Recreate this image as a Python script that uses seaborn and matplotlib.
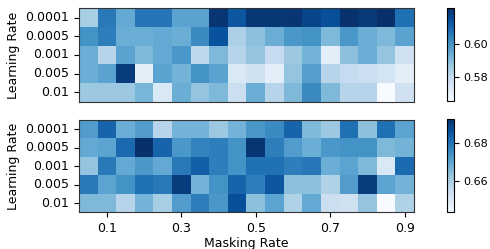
import numpy as np
import pandas as pd
import matplotlib
matplotlib.use("Agg")
import matplotlib.pyplot as plt
import seaborn as sns

learning_rates = ["0.0001", "0.0005", "0.001", "0.005", "0.01"]
masking_rates = [0.05, 0.1, 0.15, 0.2, 0.25, 0.3, 0.35, 0.4, 0.45,
                 0.5, 0.55, 0.6, 0.65, 0.7, 0.75, 0.8, 0.85, 0.9]
shown_ticks = [0.1, 0.3, 0.5, 0.7, 0.9]

# top panel
top_lr0001 = [0.5853, 0.6056, 0.5946, 0.6062, 0.6062, 0.5963, 0.5963, 0.6199, 0.6128,
              0.6194, 0.6194, 0.6199, 0.6166, 0.6144, 0.6205, 0.6188, 0.6210, 0.6073]
top_lr0005 = [0.6001, 0.6045, 0.5935, 0.5935, 0.5946, 0.5935, 0.6018, 0.6139, 0.5842,
              0.5891, 0.5935, 0.5990, 0.6001, 0.5908, 0.5990, 0.5935, 0.5908, 0.5963]
top_lr001 = [0.5935, 0.5825, 0.5963, 0.5908, 0.5946, 0.5990, 0.5814, 0.5908, 0.5825,
             0.5880, 0.5798, 0.5869, 0.5924, 0.5715, 0.5891, 0.5935, 0.5880, 0.5770]
top_lr005 = [0.5935, 0.5963, 0.6183, 0.5715, 0.5963, 0.5924, 0.6001, 0.5963, 0.5743,
             0.5770, 0.5715, 0.5880, 0.5974, 0.5825, 0.5798, 0.5781, 0.5759, 0.5715]
top_lr01 = [0.5869, 0.5869, 0.5869, 0.5919, 0.5743, 0.5935, 0.5880, 0.5908, 0.5781,
            0.5935, 0.5825, 0.5908, 0.6018, 0.5908, 0.5825, 0.5825, 0.5660, 0.5770]

# bottom panel
bot_lr0001 = [0.672, 0.683, 0.668, 0.672, 0.658, 0.667, 0.667, 0.662, 0.667,
              0.673, 0.6755, 0.683, 0.6655, 0.662, 0.6805, 0.664, 0.6805, 0.6705]
bot_lr0005 = [0.669, 0.6705, 0.682, 0.693, 0.683, 0.673, 0.677, 0.678, 0.674,
              0.692, 0.678, 0.672, 0.668, 0.673, 0.674, 0.674, 0.6655, 0.667]
bot_lr001 = [0.663, 0.679, 0.669, 0.673, 0.669, 0.679, 0.684, 0.678, 0.674,
             0.6805, 0.6805, 0.678, 0.6795, 0.668, 0.6705, 0.6655, 0.6505, 0.6815]
bot_lr005 = [0.679, 0.6705, 0.674, 0.6805, 0.679, 0.6905, 0.667, 0.674, 0.683,
             0.678, 0.6855, 0.664, 0.664, 0.659, 0.672, 0.6905, 0.6705, 0.667]
bot_lr01 = [0.6655, 0.6655, 0.658, 0.667, 0.6605, 0.672, 0.678, 0.673, 0.687,
            0.664, 0.6705, 0.659, 0.669, 0.654, 0.653, 0.663, 0.643, 0.659]

top_df = pd.DataFrame([top_lr0001, top_lr0005, top_lr001, top_lr005, top_lr01],
                      index=learning_rates, columns=masking_rates)
bot_df = pd.DataFrame([bot_lr0001, bot_lr0005, bot_lr001, bot_lr005, bot_lr01],
                      index=learning_rates, columns=masking_rates)

plt.rcParams['font.family'] = ['DejaVu Sans']
fig = plt.figure(figsize=(4.9, 2.49), dpi=100)

ax1 = fig.add_axes([0.161, 0.592, 0.684, 0.375])
cax1 = fig.add_axes([0.913, 0.594, 0.0133, 0.373])
ax2 = fig.add_axes([0.161, 0.147, 0.684, 0.372])
cax2 = fig.add_axes([0.913, 0.147, 0.0133, 0.376])

panels = [(ax1, cax1, top_df, [0.58, 0.60]), (ax2, cax2, bot_df, [0.66, 0.68])]
for ax, cax, df, cticks in panels:
    sns.heatmap(df, ax=ax, cbar_ax=cax, cmap="Blues",
                xticklabels=False, yticklabels=True)
    for sp in ax.spines.values():
        sp.set_visible(True)
        sp.set_linewidth(0.8)
        sp.set_color("#333333")
    ax.set_yticklabels(learning_rates, rotation=0, fontsize=9)
    ax.set_ylabel("Learning Rate", fontsize=9)
    ax.tick_params(axis="y", length=3.5, width=0.8)
    cb = ax.collections[0].colorbar
    cb.set_ticks(cticks)
    cb.set_ticklabels([f"{t:.2f}" for t in cticks])
    cb.ax.tick_params(labelsize=8, length=3.5, width=0.8)
    cb.outline.set_visible(True)
    cb.outline.set_linewidth(0.8)

ax1.set_xlabel("")
ax1.tick_params(axis="x", length=0)

tick_pos = [masking_rates.index(v) + 0.5 for v in shown_ticks]
ax2.set_xticks(tick_pos)
ax2.set_xticklabels([str(v) for v in shown_ticks], rotation=0, fontsize=9)
ax2.tick_params(axis="x", length=3.5, width=0.8)
ax2.set_xlabel("Masking Rate", fontsize=9, labelpad=1)

fig.savefig("out.png", dpi=100)
